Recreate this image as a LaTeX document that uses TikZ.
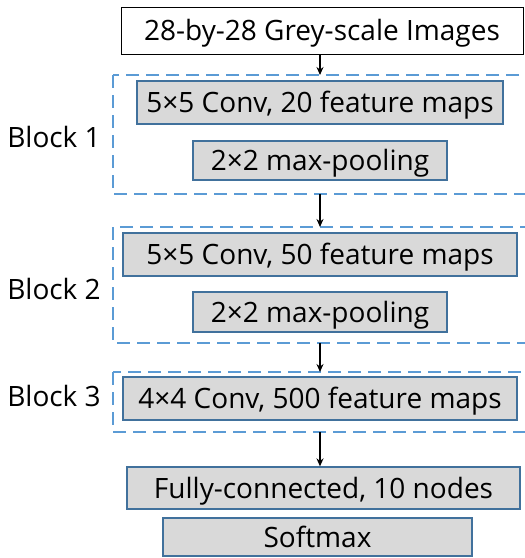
\documentclass[tikz,border=0pt]{standalone}
\usepackage{fontspec}
\setmainfont{Open Sans}
\usetikzlibrary{arrows.meta}
\definecolor{dashblue}{HTML}{5B9BD5}
\definecolor{boxedge}{HTML}{41719C}
\definecolor{boxfill}{HTML}{D9D9D9}
\begin{document}
\begin{tikzpicture}[x=1pt,y=-1pt,
  txt/.style={font=\fontsize{28}{33}\selectfont, inner sep=0pt, text height=20pt, text depth=0pt},
  layer/.style={txt, draw=boxedge, fill=boxfill, line width=1.3pt, minimum height=#1},
  blockbox/.style={draw=dashblue, line width=2.8pt, dash pattern=on 13pt off 7pt},
  flow/.style={-{Stealth[length=8pt,width=7pt]}, line width=1.3pt, black},
  blabel/.style={txt, anchor=center}
]
\useasboundingbox (0,0) rectangle (525,558);
% input
\node[txt, draw=black, fill=white, line width=1pt, minimum width=402pt, minimum height=47pt] (input) at (322,30.5) {28-by-28 Grey-scale Images};
% block frames
\draw[blockbox] (113,75) rectangle (527,194);
\draw[blockbox] (113,227) rectangle (527,343);
\draw[blockbox] (113,372) rectangle (527,432);
\coordinate (b1top) at (320,75);
\coordinate (b1bot) at (320,194);
\coordinate (b2top) at (320,227);
\coordinate (b2bot) at (320,343);
\coordinate (b3top) at (320,372);
\coordinate (b3bot) at (320,432);
% layers
\node[layer=43pt, minimum width=366pt] (conv1) at (320,102.5) {5×5 Conv, 20 feature maps};
\node[layer=39pt, minimum width=254pt] (pool1) at (320,160.5) {2×2 max-pooling};
\node[layer=43pt, minimum width=394pt] (conv2) at (320,254.5) {5×5 Conv, 50 feature maps};
\node[layer=40pt, minimum width=254pt] (pool2) at (320,312) {2×2 max-pooling};
\node[layer=43pt, minimum width=394pt] (conv3) at (320,398.5) {4×4 Conv, 500 feature maps};
\node[layer=42pt, minimum width=393pt] (fc) at (323.5,488) {Fully-connected, 10 nodes};
\node[layer=38pt, minimum width=309pt] (soft) at (317.5,537) {Softmax};
% labels
\node[blabel] (l1) at (54,137) {Block 1};
\node[blabel] (l2) at (54,289) {Block 2};
\node[blabel] (l3) at (54,396) {Block 3};
% arrows
\draw[flow] (input.south -| b1top) -- (b1top);
\draw[flow] (b1bot) -- (b2top);
\draw[flow] (b2bot) -- (b3top);
\draw[flow] (b3bot) -- (fc.north -| b3bot);
\end{tikzpicture}
\end{document}
